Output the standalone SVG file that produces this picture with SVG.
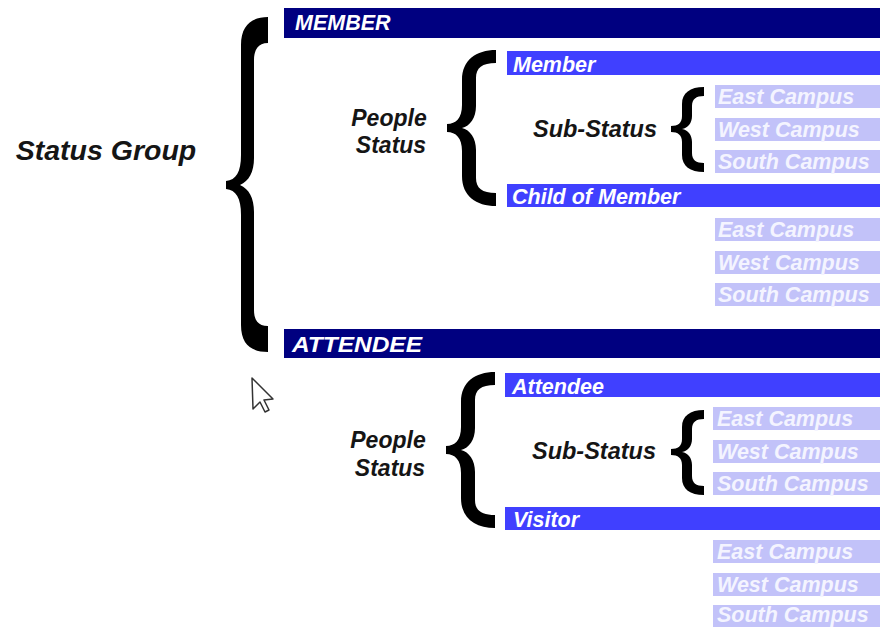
<svg xmlns="http://www.w3.org/2000/svg" width="880" height="627" viewBox="0 0 880 627">
<style>
text{font-family:"Liberation Sans",Arial,sans-serif;font-style:italic;font-weight:bold}
.lbl{fill:#151515;text-anchor:middle}
.navy{fill:#000080}
.blue{fill:#4040ff}
.light{fill:#c2c2f9}
.bt{fill:#ffffff;font-size:21.5px}
.lt{fill:#f4f4ff;font-size:21.5px}
.brace{fill:#000000}
</style>
<rect width="880" height="627" fill="#ffffff"/>

<g id="connectors">
  <path class="brace" d="M268,17 C252,17 241,25 241,45 L241,155 C241,172 236,180 226,181 L226,189 C236,190 241,198 241,215 L241,325 C241,345 252,352 268,352 L268,326 C258,326 254,320 254,310 L254,212 C254,198 249,189 240,185 C249,181 254,172 254,158 L254,60 C254,50 258,43 268,43 Z"/>
  <path class="brace" d="M496,50 C476,50 462,60 462,80 L462,105 C462,118 456,124 447,124 L447,132 C456,132 462,138 462,151 L462,176 C462,196 476,206 496,206 L496,193 C482,193 476,188 476,178 L476,150 C476,138 470,130 462,128 C470,126 476,118 476,106 L476,78 C476,68 482,63 496,63 Z"/>
  <path class="brace" d="M704,87 C690,87 682,93 682,104 L682,116 C682,123 678,126 671,126 L671,132 C678,132 682,135 682,142 L682,155 C682,166 690,172 704,172 L704,163 C696,163 692,160 692,153 L692,142 C692,135 688,130 682,129 C688,128 692,123 692,116 L692,106 C692,99 696,96 704,96 Z"/>
  <path class="brace" transform="translate(-1,322)" d="M496,50 C476,50 462,60 462,80 L462,105 C462,118 456,124 447,124 L447,132 C456,132 462,138 462,151 L462,176 C462,196 476,206 496,206 L496,193 C482,193 476,188 476,178 L476,150 C476,138 470,130 462,128 C470,126 476,118 476,106 L476,78 C476,68 482,63 496,63 Z"/>
  <path class="brace" transform="translate(0,323)" d="M704,87 C690,87 682,93 682,104 L682,116 C682,123 678,126 671,126 L671,132 C678,132 682,135 682,142 L682,155 C682,166 690,172 704,172 L704,163 C696,163 692,160 692,153 L692,142 C692,135 688,130 682,129 C688,128 692,123 692,116 L692,106 C692,99 696,96 704,96 Z"/>
</g>

<g id="status-group"><text class="lbl" x="106" y="160" font-size="28.5">Status Group</text></g>
<g id="people-status-1"><text class="lbl" x="389" y="126" font-size="23">People</text><text class="lbl" x="391" y="153" font-size="23">Status</text></g>
<g id="sub-status-1"><text class="lbl" x="595" y="137" font-size="23.5">Sub-Status</text></g>
<g id="people-status-2"><text class="lbl" x="388" y="448" font-size="23">People</text><text class="lbl" x="390" y="476" font-size="23">Status</text></g>
<g id="sub-status-2"><text class="lbl" x="594" y="459" font-size="23.5">Sub-Status</text></g>

<g id="member"><rect class="navy" x="284" y="8" width="596" height="30"/><text class="bt" x="295" y="30" font-size="22.5">MEMBER</text></g>
<g id="member-sub"><rect class="blue" x="507" y="51" width="373" height="24"/><text class="bt" x="513" y="72" font-size="22.5">Member</text></g>
<g id="m-east-1"><rect class="light" x="715" y="85" width="165" height="23"/><text class="lt" x="718" y="104">East Campus</text></g>
<g id="m-west-1"><rect class="light" x="715" y="118" width="165" height="23"/><text class="lt" x="718" y="137">West Campus</text></g>
<g id="m-south-1"><rect class="light" x="715" y="150" width="165" height="23"/><text class="lt" x="718" y="169">South Campus</text></g>
<g id="child-of-member"><rect class="blue" x="507" y="184" width="373" height="23"/><text class="bt" x="512" y="204">Child of Member</text></g>
<g id="m-east-2"><rect class="light" x="715" y="218" width="165" height="23"/><text class="lt" x="718" y="237">East Campus</text></g>
<g id="m-west-2"><rect class="light" x="715" y="251" width="165" height="23"/><text class="lt" x="718" y="270">West Campus</text></g>
<g id="m-south-2"><rect class="light" x="715" y="283" width="165" height="23"/><text class="lt" x="718" y="302">South Campus</text></g>

<g id="attendee"><rect class="navy" x="284" y="329" width="596" height="29"/><text class="bt" x="292" y="352" font-size="24" font-weight="normal" textLength="130" lengthAdjust="spacingAndGlyphs">ATTENDEE</text></g>
<g id="attendee-sub"><rect class="blue" x="505" y="373" width="375" height="24"/><text class="bt" x="512" y="394">Attendee</text></g>
<g id="a-east-1"><rect class="light" x="713" y="407" width="167" height="23"/><text class="lt" x="717" y="426">East Campus</text></g>
<g id="a-west-1"><rect class="light" x="713" y="440" width="167" height="23"/><text class="lt" x="717" y="459">West Campus</text></g>
<g id="a-south-1"><rect class="light" x="713" y="472" width="167" height="23"/><text class="lt" x="717" y="491">South Campus</text></g>
<g id="visitor"><rect class="blue" x="505" y="507" width="375" height="23"/><text class="bt" x="513" y="527">Visitor</text></g>
<g id="a-east-2"><rect class="light" x="713" y="540" width="167" height="23"/><text class="lt" x="717" y="559">East Campus</text></g>
<g id="a-west-2"><rect class="light" x="713" y="573" width="167" height="23"/><text class="lt" x="717" y="592">West Campus</text></g>
<g id="a-south-2"><rect class="light" x="713" y="605" width="167" height="22"/><text class="lt" x="717" y="622">South Campus</text></g>

<polygon points="252,378 253,409 260,402 265,412 269,410 264,400 273,399" fill="#ffffff" stroke="#333333" stroke-width="1.5" stroke-linejoin="round"/>
</svg>
